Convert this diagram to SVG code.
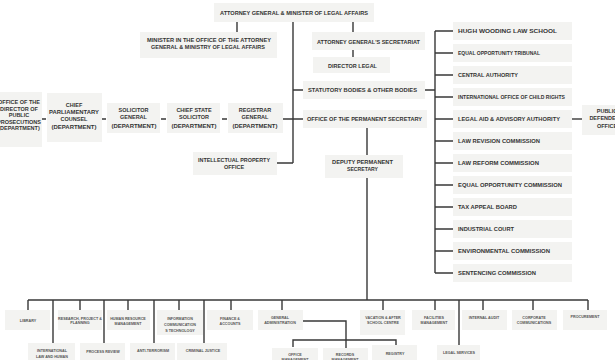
<svg xmlns="http://www.w3.org/2000/svg" width="615" height="360" viewBox="0 0 615 360">
<style>
.b{fill:#f3f3f1}
.t{font-family:"Liberation Sans",Arial,sans-serif;font-weight:bold;fill:#333;text-anchor:middle;font-size:5.5px}
.l{text-anchor:start}
.s{font-size:3.7px;fill:#555}
.c{stroke:#383838;stroke-width:1.4;fill:none}
</style>
<rect width="615" height="360" fill="#fff"/>
<g id="connectors" class="c">
<path d="M237 22V32M353 22V32M353 50V57"/>
<path d="M293 22V163M277 163H293M293 90H303M283 119H303"/>
<path d="M42 119H46M102 119H106M161 119H166M222 119H227"/>
<path d="M425 90H435M435 31V273"/>
<path d="M435 31H453M435 53H453M435 75H453M435 97H453M435 119H453M435 141H453M435 163H453M435 185H453M435 207H453M435 229H453M435 251H453M435 273H453"/>
<path d="M572 119H582"/>
<path d="M367 128V155M367 178V300M28 300H588"/>
<path d="M28 300V310M80 300V310M128 300V310M179 300V310M231 300V310M282 300V310M383 300V310M435 300V310M483 300V310M533 300V310M588 300V310"/>
<path d="M53 300V343M104 300V343M154 300V343M204 300V343M459 300V345"/>
<path d="M303 321H346V348M293 347V340H396V345"/>
</g>
<g id="ag"><rect class="b" x="214" y="3" width="160" height="19"/><text class="t" x="294" y="15" textLength="148" lengthAdjust="spacingAndGlyphs">ATTORNEY GENERAL &amp; MINISTER OF LEGAL AFFAIRS</text></g>
<g id="minister"><rect class="b" x="140" y="32" width="137" height="26"/><text class="t" x="209" y="42" textLength="124" lengthAdjust="spacingAndGlyphs">MINISTER IN THE OFFICE OF THE ATTORNEY</text><text class="t" x="208" y="48.5" textLength="114" lengthAdjust="spacingAndGlyphs">GENERAL &amp; MINISTRY OF LEGAL AFFAIRS</text></g>
<g id="secretariat"><rect class="b" x="312" y="32" width="113" height="18"/><text class="t" x="368.5" y="44" textLength="103" lengthAdjust="spacingAndGlyphs">ATTORNEY GENERAL'S SECRETARIAT</text></g>
<g id="director-legal"><rect class="b" x="313" y="57" width="77" height="16"/><text class="t" x="352.5" y="68" textLength="49" lengthAdjust="spacingAndGlyphs">DIRECTOR LEGAL</text></g>
<g id="statutory"><rect class="b" x="303" y="81" width="122" height="18"/><text class="t" x="362.5" y="92" textLength="109" lengthAdjust="spacingAndGlyphs">STATUTORY BODIES &amp; OTHER BODIES</text></g>
<g id="ops"><rect class="b" x="303" y="110" width="124" height="18"/><text class="t" x="364.5" y="121" textLength="115" lengthAdjust="spacingAndGlyphs">OFFICE OF THE PERMANENT SECRETARY</text></g>
<g id="dps"><rect class="b" x="325" y="155" width="78" height="23"/><text class="t" x="362.5" y="163.5" textLength="61" lengthAdjust="spacingAndGlyphs">DEPUTY PERMANENT</text><text class="t" x="362.5" y="170.5" textLength="31" lengthAdjust="spacingAndGlyphs">SECRETARY</text></g>
<g id="dpp"><rect class="b" x="-5" y="92" width="47" height="55"/><text class="t" x="19" y="104">OFFICE OF THE</text><text class="t" x="19" y="110.5">DIRECTOR OF</text><text class="t" x="19" y="117">PUBLIC</text><text class="t" x="19" y="123.5">PROSECUTIONS</text><text class="t" x="19" y="130">(DEPARTMENT)</text></g>
<g id="cpc"><rect class="b" x="47" y="93" width="55" height="49"/><text class="t" x="74" y="107">CHIEF</text><text class="t" x="74" y="114" textLength="50" lengthAdjust="spacingAndGlyphs">PARLIAMENTARY</text><text class="t" x="74" y="120.5">COUNSEL</text><text class="t" x="74" y="128.5" textLength="45" lengthAdjust="spacingAndGlyphs">(DEPARTMENT)</text></g>
<g id="sg"><rect class="b" x="107" y="103" width="53" height="30"/><text class="t" x="133.5" y="112">SOLICITOR</text><text class="t" x="133.5" y="119">GENERAL</text><text class="t" x="134" y="127.5" textLength="45" lengthAdjust="spacingAndGlyphs">(DEPARTMENT)</text></g>
<g id="css"><rect class="b" x="167" y="103" width="53" height="30"/><text class="t" x="194" y="112">CHIEF STATE</text><text class="t" x="194" y="119">SOLICITOR</text><text class="t" x="194" y="127.5" textLength="45" lengthAdjust="spacingAndGlyphs">(DEPARTMENT)</text></g>
<g id="registrar"><rect class="b" x="228" y="103" width="55" height="30"/><text class="t" x="255" y="112">REGISTRAR</text><text class="t" x="255" y="119">GENERAL</text><text class="t" x="255" y="127.5" textLength="45" lengthAdjust="spacingAndGlyphs">(DEPARTMENT)</text></g>
<g id="ipo"><rect class="b" x="193" y="152" width="84" height="23"/><text class="t" x="234" y="162" textLength="72" lengthAdjust="spacingAndGlyphs">INTELLECTUAL PROPERTY</text><text class="t" x="234" y="169">OFFICE</text></g>
<g id="hwls"><rect class="b" x="453" y="22" width="119" height="18"/><text class="t l" x="458" y="33" textLength="99" lengthAdjust="spacingAndGlyphs">HUGH WOODING LAW SCHOOL</text></g>
<g id="eot"><rect class="b" x="453" y="44" width="119" height="18"/><text class="t l" x="458" y="55" textLength="82" lengthAdjust="spacingAndGlyphs">EQUAL OPPORTUNITY TRIBUNAL</text></g>
<g id="ca"><rect class="b" x="453" y="66" width="119" height="18"/><text class="t l" x="458" y="77" textLength="60" lengthAdjust="spacingAndGlyphs">CENTRAL AUTHORITY</text></g>
<g id="iocr"><rect class="b" x="453" y="88" width="119" height="18"/><text class="t l" x="458" y="99" textLength="107" lengthAdjust="spacingAndGlyphs">INTERNATIONAL OFFICE OF CHILD RIGHTS</text></g>
<g id="laaa"><rect class="b" x="453" y="110" width="119" height="18"/><text class="t l" x="458" y="121" textLength="102" lengthAdjust="spacingAndGlyphs">LEGAL AID &amp; ADVISORY AUTHORITY</text></g>
<g id="lrevc"><rect class="b" x="453" y="132" width="119" height="18"/><text class="t l" x="458" y="143" textLength="82" lengthAdjust="spacingAndGlyphs">LAW REVISION COMMISSION</text></g>
<g id="lrefc"><rect class="b" x="453" y="154" width="119" height="18"/><text class="t l" x="458" y="165" textLength="81" lengthAdjust="spacingAndGlyphs">LAW REFORM COMMISSION</text></g>
<g id="eoc"><rect class="b" x="453" y="176" width="119" height="18"/><text class="t l" x="458" y="187" textLength="104" lengthAdjust="spacingAndGlyphs">EQUAL OPPORTUNITY COMMISSION</text></g>
<g id="tab"><rect class="b" x="453" y="198" width="119" height="18"/><text class="t l" x="458" y="209" textLength="59" lengthAdjust="spacingAndGlyphs">TAX  APPEAL BOARD</text></g>
<g id="ic"><rect class="b" x="453" y="220" width="119" height="18"/><text class="t l" x="458" y="231" textLength="56" lengthAdjust="spacingAndGlyphs">INDUSTRIAL COURT</text></g>
<g id="ec"><rect class="b" x="453" y="242" width="119" height="18"/><text class="t l" x="458" y="253" textLength="92" lengthAdjust="spacingAndGlyphs">ENVIRONMENTAL COMMISSION</text></g>
<g id="sc"><rect class="b" x="453" y="264" width="119" height="18"/><text class="t l" x="458" y="275" textLength="78" lengthAdjust="spacingAndGlyphs">SENTENCING COMMISSION</text></g>
<g id="pdo"><rect class="b" x="582" y="105" width="40" height="30"/><text class="t" x="607" y="113">PUBLIC</text><text class="t" x="607" y="120">DEFENDER'S</text><text class="t" x="607" y="127.5">OFFICE</text></g>
<g id="library"><rect class="b" x="5" y="310" width="45" height="20"/><text class="t s" x="28" y="321.5">LIBRARY</text></g>
<g id="rpp"><rect class="b" x="58" y="310" width="44" height="20"/><text class="t s" x="80" y="319.5">RESEARCH, PROJECT &amp;</text><text class="t s" x="80" y="324">PLANNING</text></g>
<g id="hrm"><rect class="b" x="107" y="310" width="43" height="20"/><text class="t s" x="128" y="319.5">HUMAN RESOURCE</text><text class="t s" x="128" y="325">MANAGEMENT</text></g>
<g id="ict"><rect class="b" x="157" y="310" width="46" height="25"/><text class="t s" x="180" y="319.5">INFORMATION</text><text class="t s" x="180" y="325.5">COMMUNICATION</text><text class="t s" x="180" y="331.5">S TECHNOLOGY</text></g>
<g id="fa"><rect class="b" x="207" y="310" width="46" height="20"/><text class="t s" x="230" y="319.5">FINANCE &amp;</text><text class="t s" x="230" y="325">ACCOUNTS</text></g>
<g id="ga"><rect class="b" x="258" y="310" width="45" height="20"/><text class="t s" x="280" y="318.5">GENERAL</text><text class="t s" x="280" y="323.5">ADMINISTRATION</text></g>
<g id="vasc"><rect class="b" x="360" y="310" width="45" height="25"/><text class="t s" x="383" y="318.5">VACATION &amp; AFTER</text><text class="t s" x="383" y="323.5">SCHOOL CENTRE</text></g>
<g id="fm"><rect class="b" x="412" y="310" width="43" height="20"/><text class="t s" x="434" y="318.5">FACILITIES</text><text class="t s" x="434" y="323.5">MANAGEMENT</text></g>
<g id="ia"><rect class="b" x="462" y="310" width="45" height="20"/><text class="t s" x="484" y="318.5">INTERNAL AUDIT</text></g>
<g id="cc"><rect class="b" x="512" y="310" width="45" height="20"/><text class="t s" x="534" y="318.5">CORPORATE</text><text class="t s" x="534" y="323.5">COMMUNICATIONS</text></g>
<g id="proc"><rect class="b" x="563" y="310" width="44" height="20"/><text class="t s" x="585" y="317.5">PROCUREMENT</text></g>
<g id="ilhr"><rect class="b" x="28" y="343" width="47" height="22"/><text class="t s" x="52" y="351.5">INTERNATIONAL</text><text class="t s" x="52" y="357.5">LAW AND HUMAN</text><text class="t s" x="52" y="363.5">RIGHTS</text></g>
<g id="pr"><rect class="b" x="80" y="343" width="45" height="20"/><text class="t s" x="103" y="352.5">PROCESS REVIEW</text></g>
<g id="at"><rect class="b" x="130" y="343" width="45" height="20"/><text class="t s" x="153" y="352">ANTI-TERRORISM</text></g>
<g id="cj"><rect class="b" x="177" y="343" width="50" height="20"/><text class="t s" x="203" y="352">CRIMINAL JUSTICE</text></g>
<g id="om"><rect class="b" x="272" y="348" width="46" height="15"/><text class="t s" x="295" y="356">OFFICE</text><text class="t s" x="295" y="361">MANAGEMENT</text></g>
<g id="rm"><rect class="b" x="323" y="348" width="45" height="15"/><text class="t s" x="345" y="356">RECORDS</text><text class="t s" x="345" y="361">MANAGEMENT</text></g>
<g id="reg"><rect class="b" x="372" y="345" width="45" height="18"/><text class="t s" x="395" y="355">REGISTRY</text></g>
<g id="ls"><rect class="b" x="437" y="345" width="43" height="18"/><text class="t s" x="459" y="353.5">LEGAL SERVICES</text></g>
</svg>
